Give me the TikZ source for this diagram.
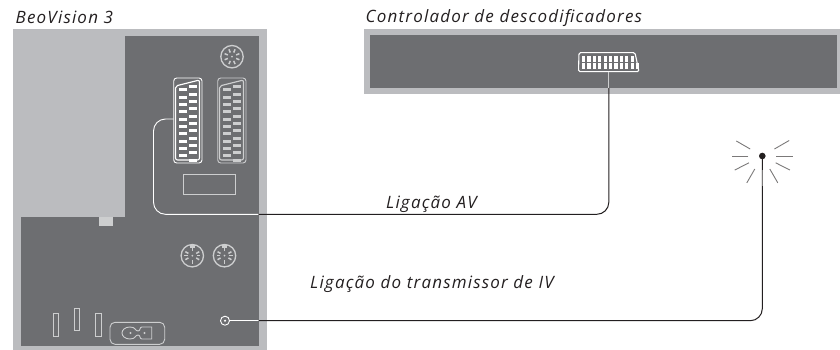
\documentclass[tikz,border=0pt]{standalone}
\usepackage{fontspec}
\usetikzlibrary{calc}
\setmainfont{Open Sans}
\newfontfamily\labfont[LetterSpace=7]{Open Sans}
\definecolor{panel}{HTML}{BBBCBF}
\definecolor{dark}{HTML}{6D6E71}
\definecolor{soft}{HTML}{CDCECF}
\definecolor{ink}{HTML}{231F20}
\tikzset{
  lab/.style={font=\labfont\fontsize{17}{19}\selectfont\itshape, text=ink, inner sep=0pt, anchor=base west},
  softline/.style={draw=soft, line width=0.9pt},
  whiteline/.style={draw=white, line width=0.9pt},
  cable/.style={draw=ink, line width=1pt},
}
\newcommand{\din}[3]{%
  \begin{scope}[shift={(#1,#2)}]
    \draw[soft, line width=1.3pt] (0,0) circle (11.2);
    \foreach \a in {#3}{\draw[soft, line width=1.5pt] (\a:4.5) -- (\a:8);}
    \fill[soft] (0,0) circle (1);
  \end{scope}}
\newcommand{\scartpins}[3]{%
  \begin{scope}[shift={(#1,#2)}]
    \foreach \i in {0,...,9}{\fill[#3] (0,\i*7.3) rectangle +(8,3);}
    \foreach \i in {0,...,10}{\fill[#3] (10,\i*7.3-3) rectangle +(8,3);}
  \end{scope}}
\begin{document}
\begin{tikzpicture}[x=1pt,y=-1pt]
\useasboundingbox (0,0) rectangle (840,350);
% main device
\fill[panel] (13,29) rectangle (267,350);
\fill[dark] (124.5,36) rectangle (258.6,217);
\fill[dark] (21,217) rectangle (258.6,345.7);
\fill[soft] (99,217) rectangle (113,226);
% top device
\fill[panel] (364,29) rectangle (840,93.7);
\fill[dark] (370,35) rectangle (837,88);
% labels
\node[lab] (t1) at (15.5,23.3) {BeoVision 3};
\node[lab] (t2) at (365.5,22.5) {Controlador de descodificadores};
\node[lab] (t3) at (386,208.3) {Ligação AV};
\node[lab] (t4) at (310,288) {Ligação do transmissor de IV};
% din sockets
\din{232}{56.7}{22.5,67.5,112.5,157.5,202.5,247.5,292.5,337.5}
\din{192.3}{255.7}{30,90,150,210,270,330,0,180}
\din{224.5}{255.7}{30,90,150,210,270,330,0,180}
\fill[soft] (190,244.5) rectangle (195,248);
\fill[soft] (222,244.5) rectangle (227,248);
% scart 1
\draw[whiteline,rounded corners=3pt] (173.7,78) rectangle (202,163);
\draw[whiteline,line width=1.1pt,rounded corners=2pt] (175.5,86) -- (199.5,80) -- (199.5,160) -- (175.5,160) -- cycle;
\scartpins{179}{88.5}{white}
% scart 2
\draw[softline,rounded corners=3pt] (217.7,78) rectangle (246,163);
\draw[softline,line width=1.1pt,rounded corners=2pt] (219.5,86) -- (243.5,80) -- (243.5,160) -- (219.5,160) -- cycle;
\scartpins{223}{88.5}{soft}
% rectangle
\draw[softline] (183,174) rectangle (235,194);
% small ports
\draw[softline] (53,313.7) rectangle (58.3,336.3);
\draw[softline] (74,308) rectangle (79.3,330.7);
\draw[softline] (95.7,313.7) rectangle (101,336.3);
\draw[softline,rounded corners=5pt] (110,322.3) rectangle (164.7,344.3);
\draw[softline] (151.7,327) -- (142,327) .. controls (139,327) and (141,331) .. (138,331) .. controls (135,331) and (136,327) .. (130,327) .. controls (125,327) and (122,330) .. (122,333) .. controls (122,336) and (125,339) .. (130,339) .. controls (136,339) and (135,335) .. (138,335) .. controls (141,335) and (139,339) .. (142,339) -- (151.7,339) -- cycle;
\fill[soft] (130.5,333) circle (1.1) (144.5,333) circle (1.1);
% scart on top device
\draw[whiteline,line width=1.1pt,rounded corners=1.5pt] (579,52.7) -- (635,52.7) -- (639,71.7) -- (578.5,71.7) -- cycle;
\foreach \i in {0,...,9}{\fill[white] (582+\i*5.4,56) rectangle +(3.2,6);}
\foreach \i in {0,...,10}{\fill[white] (582+\i*5.4,63) rectangle +(3.2,6);}
% connectors
\coordinate (avA) at (173.7,119);
\coordinate (avB) at (258.6,214.3);
\coordinate (avC) at (608.8,88);
\coordinate (avD) at (608.8,71.7);
\draw[whiteline,rounded corners=12pt] (avA) -- (153.5,119) -- (153.5,214.3) -- (avB);
\draw[cable,rounded corners=12pt] (avB) -- (608.8,214.3) -- (avC);
\draw[draw=soft,line width=1pt] (avC) -- (avD);
\node[circle,draw=white,line width=0.9pt,minimum size=9pt,inner sep=0pt] (jack) at (225,320.7) {};
\fill[white] (jack.center) circle (1.2);
\coordinate (irB) at (258.6,320.7);
\node[circle,fill=ink,minimum size=6.6pt,inner sep=0pt] (dot) at (762.3,156) {};
\draw[whiteline] (jack.east) -- (irB);
\draw[cable,rounded corners=12pt] (irB) -- (762.3,320.7) -- (dot.center);
% rays
\foreach \a/\b/\c in {90/14/30,60/15/31,27/15/31,0/14/31,-30/14/31,120/15/31,153/15/31,180/14/30,210/14/30}{
  \draw[draw=ink!60,line width=0.9pt] ($(dot.center)+(\a:\b)$) -- ($(dot.center)+(\a:\c)$);
}
\end{tikzpicture}
\end{document}
